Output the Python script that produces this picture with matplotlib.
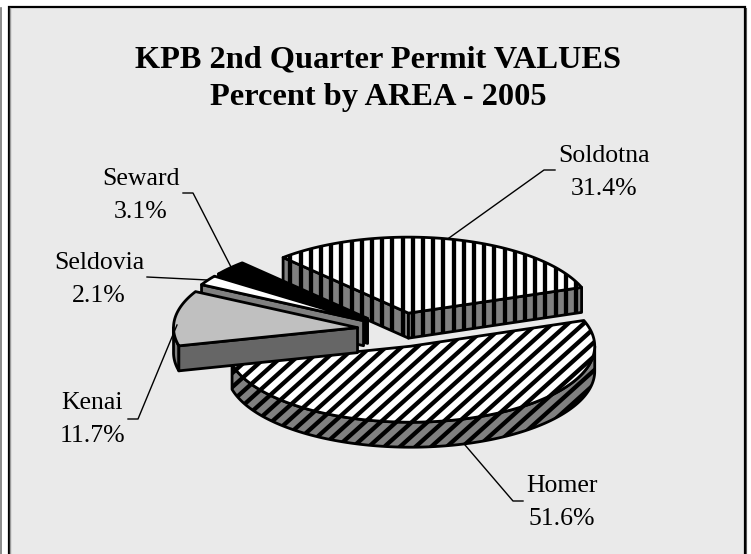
import numpy as np
import matplotlib
matplotlib.use('Agg')
import matplotlib.pyplot as plt
from matplotlib.patches import Polygon, Rectangle
from matplotlib.collections import LineCollection

plt.rcParams['font.family'] = ['Liberation Serif', 'DejaVu Serif']

title_lines = ['KPB 2nd Quarter Permit VALUES', 'Percent by AREA - 2005']
areas = ['Homer', 'Kenai', 'Seldovia', 'Seward', 'Soldotna']
percents = [51.6, 11.7, 2.1, 3.1, 31.4]

# pie geometry, in pixels of the picture
cx, cy = 398.7, 329.8
rx, ry = 184, 76
explode = 0.2256
depth = 25
start_angle = 19.8  # slices run clockwise from here
total = sum(percents)

tops = {'Homer': 'white', 'Kenai': '#c0c0c0', 'Seldovia': 'white', 'Seward': 'black', 'Soldotna': 'white'}
sides = {'Homer': '#808080', 'Kenai': '#666666', 'Seldovia': '#808080', 'Seward': 'black', 'Soldotna': '#808080'}
# x centre and first line baseline of each label
label_pos = {'Homer': (562, 492), 'Kenai': (92, 409), 'Seldovia': (99, 269), 'Seward': (140.5, 185), 'Soldotna': (604, 162)}
leaders = {'Homer': [(523, 501), (513, 501), (465, 445)],
           'Kenai': [(128, 419), (138, 419), (177, 325)],
           'Seldovia': [(147, 277), (208, 280)],
           'Seward': [(183, 193), (193, 193), (231, 267)],
           'Soldotna': [(555, 170), (544, 170), (449, 238)]}

fig = plt.figure(figsize=(7.51, 5.54), dpi=100)
ax = fig.add_axes([0, 0, 1, 1])
ax.set_xlim(0, 751)
ax.set_ylim(554, 0)
ax.axis('off')

ax.add_patch(Rectangle((8.5, 6.5), 736, 560, fc='#eaeaea', ec='black', lw=1.6, zorder=1))
ax.plot([10, 10], [8, 554], color='#9a9a9a', lw=1, zorder=2)
ax.plot([745.5, 745.5], [8, 554], color='#555555', lw=0.8, zorder=2)
ax.plot([0.5, 0.5], [8, 554], color='#777777', lw=1.2, zorder=2)


def rim(c, a0, a1, drop=0):
    t = np.radians(np.linspace(a0, a1, 120))
    return np.column_stack([c[0] + rx * np.cos(t), c[1] - ry * np.sin(t) + drop])


def stripes(patch, kind, z):
    # stripes are clipped to the face they belong to
    if kind == 'vertical':
        xs = np.arange(270, 600, 10.2)
        segs = [[(x, 220), (x, 350)] for x in xs]
    else:
        xs = np.arange(100, 1000, 15.6)
        segs = [[(x, 450), (x + 300, 180)] for x in xs]
    lc = LineCollection(segs, colors='black', linewidths=3.1, zorder=z)
    ax.add_collection(lc)
    lc.set_clip_path(patch)


def face(pts, fc, z, kind=None):
    p = Polygon(pts, closed=True, fc=fc, ec='none', zorder=z)
    ax.add_patch(p)
    if kind:
        stripes(p, kind, z)
    e = Polygon(pts, closed=True, fc='none', ec='black', lw=2.0, zorder=z, joinstyle='round')
    ax.add_patch(e)


# slice angles and centres come from the percentages
angles = {}
centres = {}
a = start_angle
for name, pct in zip(areas, percents):
    b = a - pct / total * 360
    mid = np.radians((a + b) / 2)
    angles[name] = (a, b)
    centres[name] = (cx + explode * rx * np.cos(mid), cy - explode * ry * np.sin(mid))
    a = b

# Soldotna, back
a0, a1 = angles['Soldotna']
c = centres['Soldotna']
rim_top = rim(c, a0, a1)
for end in (rim_top[0], rim_top[-1]):
    pts = [c, end, (end[0], end[1] + depth), (c[0], c[1] + depth)]
    face(pts, sides['Soldotna'], 10, 'vertical')
face(np.vstack([[c], rim_top]), tops['Soldotna'], 11, 'vertical')

# Homer, front
a0, a1 = angles['Homer']
c = centres['Homer']
side_pts = np.vstack([rim(c, 0, a1), rim(c, a1, 0, depth)])
face(side_pts, sides['Homer'], 12, 'diagonal')
face(np.vstack([[c], rim(c, a0, a1)]), tops['Homer'], 13, 'diagonal')

# Seward
a0, a1 = angles['Seward']
c = centres['Seward']
end = rim(c, a0, a1)[0]
face([c, end, (end[0], end[1] + depth), (c[0], c[1] + depth)], sides['Seward'], 14)
face(np.vstack([[c], rim(c, a0, a1)]), tops['Seward'], 15)

# Seldovia
a0, a1 = angles['Seldovia']
c = centres['Seldovia']
end = rim(c, a0, a1)[0]
face([c, end, (end[0], end[1] + depth), (c[0], c[1] + depth)], sides['Seldovia'], 16)
face(np.vstack([[c], rim(c, a0, a1)]), tops['Seldovia'], 17)

# Kenai
a0, a1 = angles['Kenai']
c = centres['Kenai']
face(np.vstack([rim(c, -180, a0), rim(c, a0, -180, depth)]), '#808080', 18)
end = rim(c, a0, a1)[0]
face([c, end, (end[0], end[1] + depth), (c[0], c[1] + depth)], sides['Kenai'], 19)
face(np.vstack([[c], rim(c, a0, a1)]), tops['Kenai'], 20)

for name, pct in zip(areas, percents):
    x, y = label_pos[name]
    ax.text(x, y, name, ha='center', va='baseline', fontsize=18.5, color='black', zorder=30)
    ax.text(x, y + 33, f'{pct:.1f}%', ha='center', va='baseline', fontsize=18.5, color='black', zorder=30)
    pts = np.array(leaders[name])
    ax.plot(pts[:, 0], pts[:, 1], color='black', lw=1, zorder=25)

ax.text(378, 60, title_lines[0], ha='center', va='center', fontsize=23.3, fontweight='bold', zorder=30)
ax.text(378, 98, title_lines[1], ha='center', va='center', fontsize=23.3, fontweight='bold', zorder=30)

fig.savefig('out.png', dpi=100, facecolor='white')
